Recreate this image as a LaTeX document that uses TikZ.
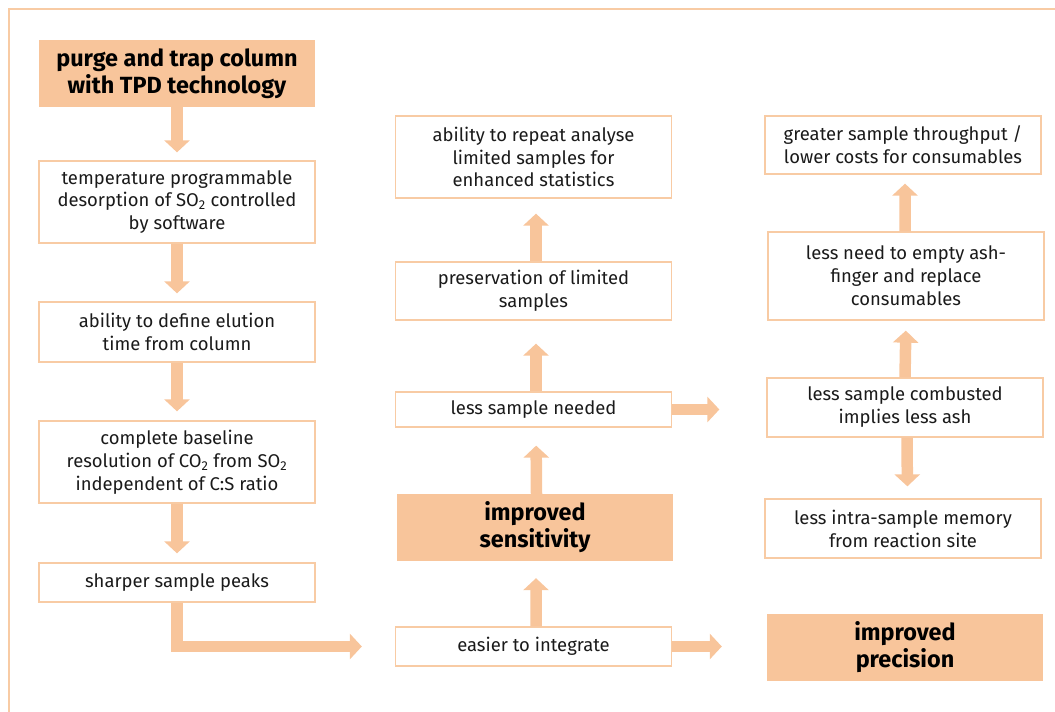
\documentclass[tikz,border=0pt]{standalone}
\usepackage{fontspec}
\setmainfont{Fira Sans}
\usetikzlibrary{arrows.meta}
\definecolor{peach}{HTML}{F8C59B}
\definecolor{peachline}{HTML}{F8CBA4}
\definecolor{ink}{HTML}{1A1A1A}
\begin{document}
\begin{tikzpicture}[x=1bp,y=-1bp,
  box/.style={draw=peachline, line width=1.3bp, fill=white, minimum width=276bp, align=center, text=ink, font=\fontsize{18.5}{23}\selectfont, inner sep=0pt},
  hbox/.style={fill=peach, minimum width=276bp, align=center, text=black, font=\bfseries\fontsize{23.5}{27}\selectfont, inner sep=0pt},
  fat/.style={draw=peach, line width=11.5bp, -{Triangle[width=25bp,length=12bp]}},
  frame/.style={draw=peachline, line width=2bp}
]
\useasboundingbox (0,0) rectangle (1055,712);
\draw[frame] (9,712) -- (9,9) -- (1056,9);
% left column
\node[hbox, minimum height=67bp] (purge) at (177,73.5) {purge and trap column\\with TPD technology};
\node[box, minimum height=82bp] (temp) at (177,202) {temperature programmable\\desorption of SO\textsubscript{2} controlled\\by software};
\node[box, minimum height=60bp] (elution) at (177,332) {ability to define elution\\time from column};
\node[box, minimum height=82bp] (complete) at (177,462) {complete baseline\\resolution of CO\textsubscript{2} from SO\textsubscript{2}\\independent of C:S ratio};
\node[box, minimum height=39bp] (sharper) at (177,582.5) {sharper sample peaks};
% middle column
\node[box, minimum height=82bp] (repeat) at (533.5,157) {ability to repeat analyse\\limited samples for\\enhanced statistics};
\node[box, minimum height=58bp] (preserve) at (533.5,291) {preservation of limited\\samples};
\node[box, minimum height=35bp] (lsn) at (533.5,409.5) {less sample needed};
\node[hbox, minimum height=67bp] (sens) at (535,527.5) {improved\\sensitivity};
\node[box, minimum height=39bp] (easier) at (533.5,646.5) {easier to integrate};
% right column
\node[box, minimum height=58bp] (greater) at (903,145) {greater sample throughput /\\lower costs for consumables};
\node[box, minimum height=88bp] (lessneed) at (906,276) {less need to empty ash-\\finger and replace\\consumables};
\node[box, minimum height=59bp] (combust) at (905,407.5) {less sample combusted\\implies less ash};
\node[box, minimum height=59bp] (intra) at (903,528.5) {less intra-sample memory\\from reaction site};
\node[hbox, minimum height=67bp] (prec) at (905,647.5) {improved\\precision};
% arrows
\draw[fat, shorten >=8bp] (purge.south) -- (temp.north);
\draw[fat, shorten >=8bp] (temp.south) -- (elution.north);
\draw[fat, shorten >=9bp] (elution.south) -- (complete.north);
\draw[fat, shorten >=9bp] (complete.south) -- (sharper.north);
\draw[fat, shorten >=33bp] (sharper.south) |- (easier.west);
\draw[fat, shorten >=17bp] ([xshift=2.5bp]easier.north) -- ([xshift=1bp]sens.south);
\draw[fat, shorten >=18bp] ([xshift=1.5bp]sens.north) -- ([xshift=2.5bp]lsn.south);
\draw[fat, shorten >=23bp] ([xshift=2.5bp]lsn.north) -- ([xshift=2.5bp]preserve.south);
\draw[fat, shorten >=15bp] ([xshift=2.5bp]preserve.north) -- ([xshift=2.5bp]repeat.south);
\draw[fat, shorten >=47bp] (lsn.east) -- (lsn.east -| combust.west);
\draw[fat, shorten >=45bp] (easier.east) -- (easier.east -| prec.west);
\draw[fat, shorten >=12bp] ([xshift=2bp]combust.south) -- ([xshift=4.5bp]intra.north);
\draw[fat, shorten >=10bp] ([xshift=0bp]combust.north) -- ([xshift=0bp]lessneed.south);
\draw[fat, shorten >=9bp] ([xshift=-1bp]lessneed.north) -- ([xshift=2bp]greater.south);
\end{tikzpicture}
\end{document}
